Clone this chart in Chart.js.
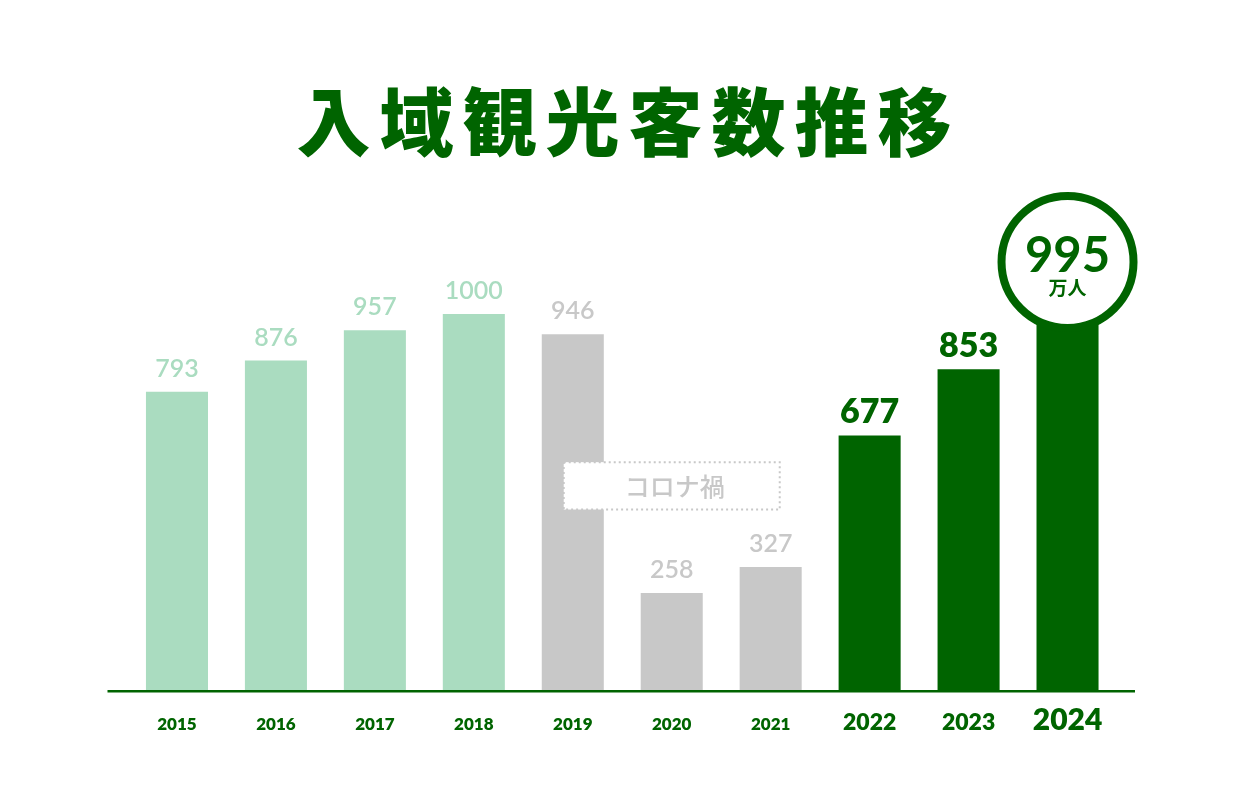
<!DOCTYPE html>
<html lang="ja">
<head>
<meta charset="utf-8">
<title>入域観光客数推移</title>
<script src="https://cdn.jsdelivr.net/npm/chart.js@4/dist/chart.umd.min.js"></script>
<style>
  html, body { margin: 0; padding: 0; background: #ffffff; }
  #wrap { width: 1248px; height: 800px; }
</style>
</head>
<body>
<div id="wrap"><canvas id="chart" width="1248" height="800"></canvas></div>
<script>
// 入域観光客数（万人）
const years = ['2015', '2016', '2017', '2018', '2019', '2020', '2021', '2022', '2023', '2024'];
const visitors = [793, 876, 957, 1000, 946, 258, 327, 677, 853, 995];
// period of each year: before / covid / after
const periods = ['pre', 'pre', 'pre', 'pre', 'covid', 'covid', 'covid', 'post', 'post', 'post'];
const titleText = '入域観光客数推移';
const unitText = '万人';
const covidText = 'コロナ禍';

const DARK = '#006400';
const LIGHT = '#aadcc0';
const GREY = '#c8c8c8';
const NUM_FONT = 'Lato, "Noto Sans", sans-serif';
const JP_FONT = '"Noto Sans CJK JP", sans-serif';

const barColors = periods.map(p => p === 'pre' ? LIGHT : p === 'covid' ? GREY : DARK);

const decorations = {
  id: 'decorations',
  beforeDatasetsDraw(chart) {
    const { ctx } = chart;
    ctx.save();
    // title
    ctx.fillStyle = DARK;
    ctx.font = '900 74px ' + JP_FONT;
    ctx.textAlign = 'center';
    ctx.textBaseline = 'middle';
    ctx.letterSpacing = '9px';
    ctx.fillText(titleText, 624 + 4.5, 122);
    ctx.letterSpacing = '0px';
    ctx.restore();
  },
  afterDatasetsDraw(chart) {
    const { ctx, chartArea, scales } = chart;
    const meta = chart.getDatasetMeta(0);
    ctx.save();

    // baseline
    ctx.strokeStyle = DARK;
    ctx.lineWidth = 2.5;
    ctx.beginPath();
    ctx.moveTo(chartArea.left - 20, chartArea.bottom + 1.2);
    ctx.lineTo(chartArea.right + 18, chartArea.bottom + 1.2);
    ctx.stroke();

    // covid box
    const cx = scales.x.getPixelForValue(5);
    const top = scales.y.getPixelForValue(606);
    const bottom = scales.y.getPixelForValue(480);
    const left = cx - 108, right = cx + 108;
    ctx.fillStyle = '#ffffff';
    ctx.fillRect(left, top, right - left, bottom - top);
    ctx.strokeStyle = GREY;
    ctx.lineWidth = 2;
    ctx.setLineDash([2, 3]);
    ctx.strokeRect(left, top, right - left, bottom - top);
    ctx.setLineDash([]);
    ctx.fillStyle = GREY;
    ctx.font = '500 25px ' + JP_FONT;
    ctx.textAlign = 'center';
    ctx.textBaseline = 'middle';
    ctx.fillText(covidText, cx + 3, (top + bottom) / 2 + 1);

    // value labels
    meta.data.forEach((bar, i) => {
      const p = periods[i];
      if (i === years.length - 1) return;
      ctx.textAlign = 'center';
      ctx.textBaseline = 'alphabetic';
      if (p === 'post') {
        ctx.fillStyle = DARK;
        ctx.font = '800 34px ' + NUM_FONT;
        ctx.fillText(String(visitors[i]), bar.x, bar.y - 12);
      } else {
        ctx.fillStyle = p === 'pre' ? LIGHT : GREY;
        ctx.font = '600 25px ' + NUM_FONT;
        ctx.fillText(String(visitors[i]), bar.x, bar.y - 15);
      }
    });

    // highlight circle on the latest year
    const last = meta.data[years.length - 1];
    const ccy = last.y - 54;
    ctx.beginPath();
    ctx.arc(last.x, ccy, 66, 0, Math.PI * 2);
    ctx.fillStyle = '#ffffff';
    ctx.fill();
    ctx.strokeStyle = DARK;
    ctx.lineWidth = 8;
    ctx.stroke();
    ctx.fillStyle = DARK;
    ctx.textAlign = 'center';
    ctx.textBaseline = 'alphabetic';
    ctx.font = '700 49px ' + NUM_FONT;
    ctx.fillText(String(visitors[years.length - 1]), last.x, ccy + 10);
    ctx.font = '700 19px ' + JP_FONT;
    ctx.textBaseline = 'middle';
    ctx.fillText(unitText, last.x, ccy + 26);

    // year labels
    ctx.fillStyle = DARK;
    ctx.textBaseline = 'alphabetic';
    years.forEach((y, i) => {
      const x = scales.x.getPixelForValue(i);
      let size = 17;
      if (i === years.length - 1) size = 30;
      else if (periods[i] === 'post') size = 23;
      ctx.font = '800 ' + size + 'px ' + NUM_FONT;
      ctx.fillText(y, x, chartArea.bottom + 40);
    });

    ctx.restore();
  }
};

new Chart(document.getElementById('chart'), {
  type: 'bar',
  data: {
    labels: years,
    datasets: [{
      data: visitors,
      backgroundColor: barColors,
      borderWidth: 0,
      barPercentage: 0.627,
      categoryPercentage: 1.0
    }]
  },
  options: {
    responsive: false,
    animation: false,
    layout: { padding: { left: 127.5, right: 131, top: 126, bottom: 110 } },
    plugins: {
      legend: { display: false },
      title: { display: false },
      tooltip: { enabled: false }
    },
    scales: {
      x: { display: false },
      y: { display: false, min: 0, max: 1500 }
    }
  },
  plugins: [decorations]
});
</script>
</body>
</html>
